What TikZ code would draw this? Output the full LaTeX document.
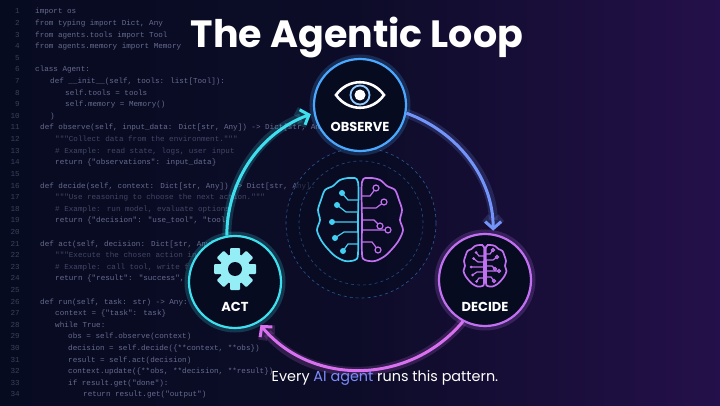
\documentclass[tikz,border=0pt]{standalone}
\usepackage{fontspec}
\setmainfont{Poppins}
\newfontfamily\codefont{Liberation Mono}
\usepackage{tikz}
\usetikzlibrary{arrows.meta, positioning}

\definecolor{bgleft}{HTML}{070B20}
\definecolor{bgright}{HTML}{24104A}
\definecolor{cyanring}{HTML}{3EE0EE}
\definecolor{bluering}{HTML}{4AA8FF}
\definecolor{purplering}{HTML}{C070F0}
\definecolor{pinkarc}{HTML}{D870F0}
\definecolor{codegray}{HTML}{9AA0C8}
\definecolor{aiblue}{HTML}{7C8CFF}

\tikzset{
  stage/.style={circle, draw=#1, line width=2.2pt, fill=bgleft, minimum size=92pt,
    preaction={draw=#1, line width=9pt, opacity=0.2}},
  loop arrow/.style={line width=3pt, draw=#1, -{Straight Barb[length=7pt,width=16pt]},
    shorten >=3pt, preaction={draw=#1, line width=9pt, opacity=0.18}},
  label/.style={text=white, font=\bfseries\fontsize{13}{15}\selectfont},
  code/.style={anchor=base west, text=codegray, opacity=0.65, font=\codefont\fontsize{7.6}{8}\selectfont, inner sep=0pt},
  lineno/.style={anchor=base east, text=codegray, opacity=0.35, font=\codefont\fontsize{7.6}{8}\selectfont, inner sep=0pt},
  pics/brain/.style 2 args={code={
    % left half
    \draw[#1, line width=1.7pt] plot[smooth cycle] coordinates {(-2,38) (-10,42) (-20,40) (-27,34) (-35,30)
      (-39,20) (-42,10) (-40,0) (-43,-10) (-39,-20) (-33,-28) (-25,-36) (-15,-41) (-5,-40) (-2,-34) (-2,0)};
    \draw[#1, line width=1.2pt] (-2,20) -- (-12,20) -- (-18,27) (-2,8) -- (-14,8) -- (-23,15)
      (-2,-2) -- (-28,-2) (-2,-12) -- (-16,-12) -- (-25,-18) (-2,-24) -- (-12,-24) -- (-17,-31);
    \foreach \p in {(-18,27),(-23,15),(-28,-2),(-25,-18),(-17,-31)}
      \fill[#1] \p circle (3pt);
    % right half
    \begin{scope}[xscale=-1]
      \draw[#2, line width=1.7pt] plot[smooth cycle] coordinates {(-2,38) (-10,42) (-20,40) (-27,34) (-35,30)
        (-39,20) (-42,10) (-40,0) (-43,-10) (-39,-20) (-33,-28) (-25,-36) (-15,-41) (-5,-40) (-2,-34) (-2,0)};
      \draw[#2, line width=1.2pt] (-2,24) -- (-10,24) -- (-16,32) (-2,12) -- (-16,12) -- (-24,18)
        (-2,0) -- (-14,0) -- (-20,-6) (-2,-10) -- (-28,-10) (-2,-22) -- (-12,-22) -- (-18,-30);
      \foreach \p in {(-16,32),(-24,18),(-20,-6),(-28,-10),(-18,-30)}
        \draw[#2, line width=1.2pt, fill=bgleft] \p circle (3pt);
    \end{scope}
  }}
}

\begin{document}
\begin{tikzpicture}[x=1pt, y=1pt]
  % Background
  \shade[left color=bgleft, right color=bgright, middle color=bgleft!80!bgright] (0,0) rectangle (720,405);
  \useasboundingbox (0,0) rectangle (720,405);

  % Code in the background
  \foreach \n in {1,...,34}
    \node[lineno] at (20,{391-11.6*(\n-1)}) {\n};
  \node[code] at (35,391.0) {import os};
  \node[code] at (35,379.4) {from typing import Dict, Any};
  \node[code] at (35,367.8) {from agents.tools import Tool};
  \node[code] at (35,356.2) {from agents.memory import Memory};
  \node[code] at (35,333.0) {class Agent:};
  \node[code] at (50,321.4) {def \_\_init\_\_(self, tools: list[Tool]):};
  \node[code] at (65,309.8) {self.tools = tools};
  \node[code] at (65,298.2) {self.memory = Memory()};
  \node[code] at (50,286.6) {)};
  \node[code] at (40,275.0) {def observe(self, input\_data: Dict[str, Any]) -> Dict[str, Any]:};
  \node[code, opacity=0.4] at (55,263.4) {"""Collect data from the environment."""};
  \node[code, opacity=0.4] at (55,251.8) {\# Example: read state, logs, user input};
  \node[code] at (55,240.2) {return \{"observations": input\_data\}};
  \node[code] at (40,217.0) {def decide(self, context: Dict[str, Any]) -> Dict[str, Any]:};
  \node[code, opacity=0.4] at (55,205.4) {"""Use reasoning to choose the next action."""};
  \node[code, opacity=0.4] at (55,193.8) {\# Example: run model, evaluate options};
  \node[code] at (55,182.2) {return \{"decision": "use\_tool", "tool"};
  \node[code] at (40,159.0) {def act(self, decision: Dict[str, Any]};
  \node[code, opacity=0.4] at (55,147.4) {"""Execute the chosen action in the};
  \node[code, opacity=0.4] at (55,135.8) {\# Example: call tool, write fil};
  \node[code] at (55,124.2) {return \{"result": "success", "ot};
  \node[code] at (40,101.0) {def run(self, task: str) -> Any:};
  \node[code] at (55,89.4) {context = \{"task": task\}};
  \node[code] at (55,77.8) {while True:};
  \node[code] at (68,66.2) {obs = self.observe(context)};
  \node[code] at (68,54.6) {decision = self.decide(\{**context, **obs\})};
  \node[code] at (68,43.0) {result = self.act(decision)};
  \node[code] at (68,31.4) {context.update(\{**obs, **decision, **result\})};
  \node[code] at (68,19.8) {if result.get("done"):};
  \node[code] at (83,8.2) {return result.get("output")};

  % Title
  \node[text=white, font=\bfseries\fontsize{38}{42}\selectfont] (title) at (357,367) {The Agentic Loop};

  % Centre
  \coordinate (core) at (361,182);
  \fill[bgleft, opacity=0.6] (core) circle (75);
  \draw[bluering, opacity=0.5, dashed, line width=0.6pt] (core) circle (75);
  \draw[bluering, opacity=0.4, dashed, line width=0.6pt] (core) circle (62);
  \pic at (360,185) {brain={cyanring!70!bluering}{purplering}};

  % Stages
  \node[stage=bluering] (observe) at (360,300) {};
  \node[stage=cyanring] (act) at (235,123) {};
  \node[stage=purplering] (decide) at (485,125) {};

  % Loop
  \draw[loop arrow=cyanring] (act.100) to[out=90, in=200, looseness=0.95] (observe.190);
  \draw[loop arrow=bluering!65!purplering] (observe.350) to[out=-20, in=90, looseness=0.95] (decide.80);
  \draw[loop arrow=pinkarc] (decide.242) to[out=230, in=310, looseness=1.04] (act.300);

  % Observe icon
  \draw[white, line width=2.6pt] (336,310) .. controls (348,327) and (372,327) .. (384,310)
    .. controls (372,293) and (348,293) .. cycle;
  \draw[bluering!60!white, line width=1.8pt] (360,310) circle (9.5);
  \fill[white] (360,310) circle (5.5);
  \node[label] at (observe.center) [yshift=-22pt] {OBSERVE};

  % Act icon
  \begin{scope}[shift={(235,136)}]
    \fill[cyanring!55!white] (0,0) circle (15);
    \foreach \a in {0,45,...,315}
      \fill[cyanring!55!white, rotate=\a, rounded corners=1pt] (-5,12) rectangle (5,21);
    \fill[bgleft] (0,0) circle (7);
  \end{scope}
  \node[label] at (act.center) [yshift=-25pt] {ACT};

  % Decide icon
  \pic[scale=0.5] at (485,139) {brain={purplering}{purplering}};
  \node[label] at (decide.center) [yshift=-27pt] {DECIDE};

  % Caption
  \node[text=white, font=\fontsize{14.4}{17}\selectfont] (caption) at (385,27)
    {Every {\color{aiblue}AI agent} runs this pattern.};
\end{tikzpicture}
\end{document}
